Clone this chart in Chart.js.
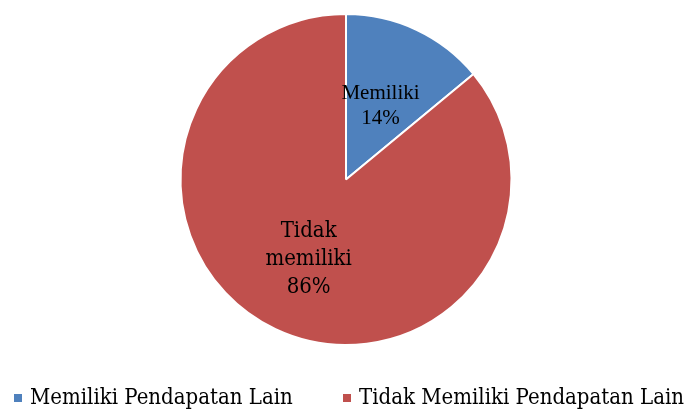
<!DOCTYPE html>
<html>
<head>
<meta charset="utf-8">
<script src="https://cdn.jsdelivr.net/npm/chart.js@4"></script>
<style>
  html, body { margin: 0; padding: 0; background: #fff; }
  #wrap { position: relative; width: 690px; height: 409px; overflow: hidden; }
  #legend {
    position: absolute; left: 0; top: 384px; width: 690px; white-space: nowrap;
    font: 22px "DejaVu Serif Condensed", "Liberation Serif", serif; color: #000;
  }
  .item { position: absolute; top: 0; }
  .box { display: inline-block; width: 8px; height: 8px; margin-right: 8px; vertical-align: 2px; }
</style>
</head>
<body>
<div id="wrap">
  <canvas id="chart" width="690" height="409"></canvas>
  <div id="legend"></div>
</div>
<script>
// ── Data ──────────────────────────────────────────────
const categories  = ['Memiliki Pendapatan Lain', 'Tidak Memiliki Pendapatan Lain']
const values      = [14, 86]
const sliceLabels = [['Memiliki', '14%'], ['Tidak', 'memiliki', '86%']]
const colors      = ['#4F81BD', '#C0504D']

// ── Slice labels ──────────────────────────────────────
const LABEL_STYLE = [
  { font: '21px "Liberation Serif", serif', lineHeight: 25, dist: 0.49 },
  { font: '22px "DejaVu Serif Condensed", "Liberation Serif", serif', lineHeight: 28, dist: 0.53 }
]

const sliceLabelPlugin = {
  id: 'sliceLabels',
  afterDatasetsDraw(chart) {
    const ctx = chart.ctx
    chart.getDatasetMeta(0).data.forEach((arc, i) => {
      const p = arc.getProps(['x', 'y', 'startAngle', 'endAngle', 'outerRadius'], true)
      const st = LABEL_STYLE[i]
      const mid = (p.startAngle + p.endAngle) / 2
      const r = p.outerRadius * st.dist
      const cx = p.x + Math.cos(mid) * r
      const cy = p.y + Math.sin(mid) * r
      const lines = sliceLabels[i]
      ctx.save()
      ctx.font = st.font
      ctx.fillStyle = '#000'
      ctx.textAlign = 'center'
      ctx.textBaseline = 'middle'
      const y0 = cy - (lines.length - 1) * st.lineHeight / 2
      lines.forEach((t, k) => ctx.fillText(t, cx, y0 + k * st.lineHeight))
      ctx.restore()
    })
  }
}

new Chart(document.getElementById('chart'), {
  type: 'pie',
  data: {
    labels: categories,
    datasets: [{
      data: values,
      backgroundColor: colors,
      borderColor: '#fff',
      borderWidth: 2
    }]
  },
  options: {
    responsive: false,
    animation: false,
    layout: { padding: { top: 13, bottom: 63, left: 2 } },
    plugins: {
      legend: { display: false },
      tooltip: { enabled: false }
    }
  },
  plugins: [sliceLabelPlugin]
})

// ── HTML legend ───────────────────────────────────────
const legendX = [14, 343]
const legend = document.getElementById('legend')
categories.forEach((c, i) => {
  const el = document.createElement('span')
  el.className = 'item'
  el.style.left = legendX[i] + 'px'
  el.innerHTML = `<span class="box" style="background:${colors[i]}"></span>${c}`
  legend.appendChild(el)
})
</script>
</body>
</html>
